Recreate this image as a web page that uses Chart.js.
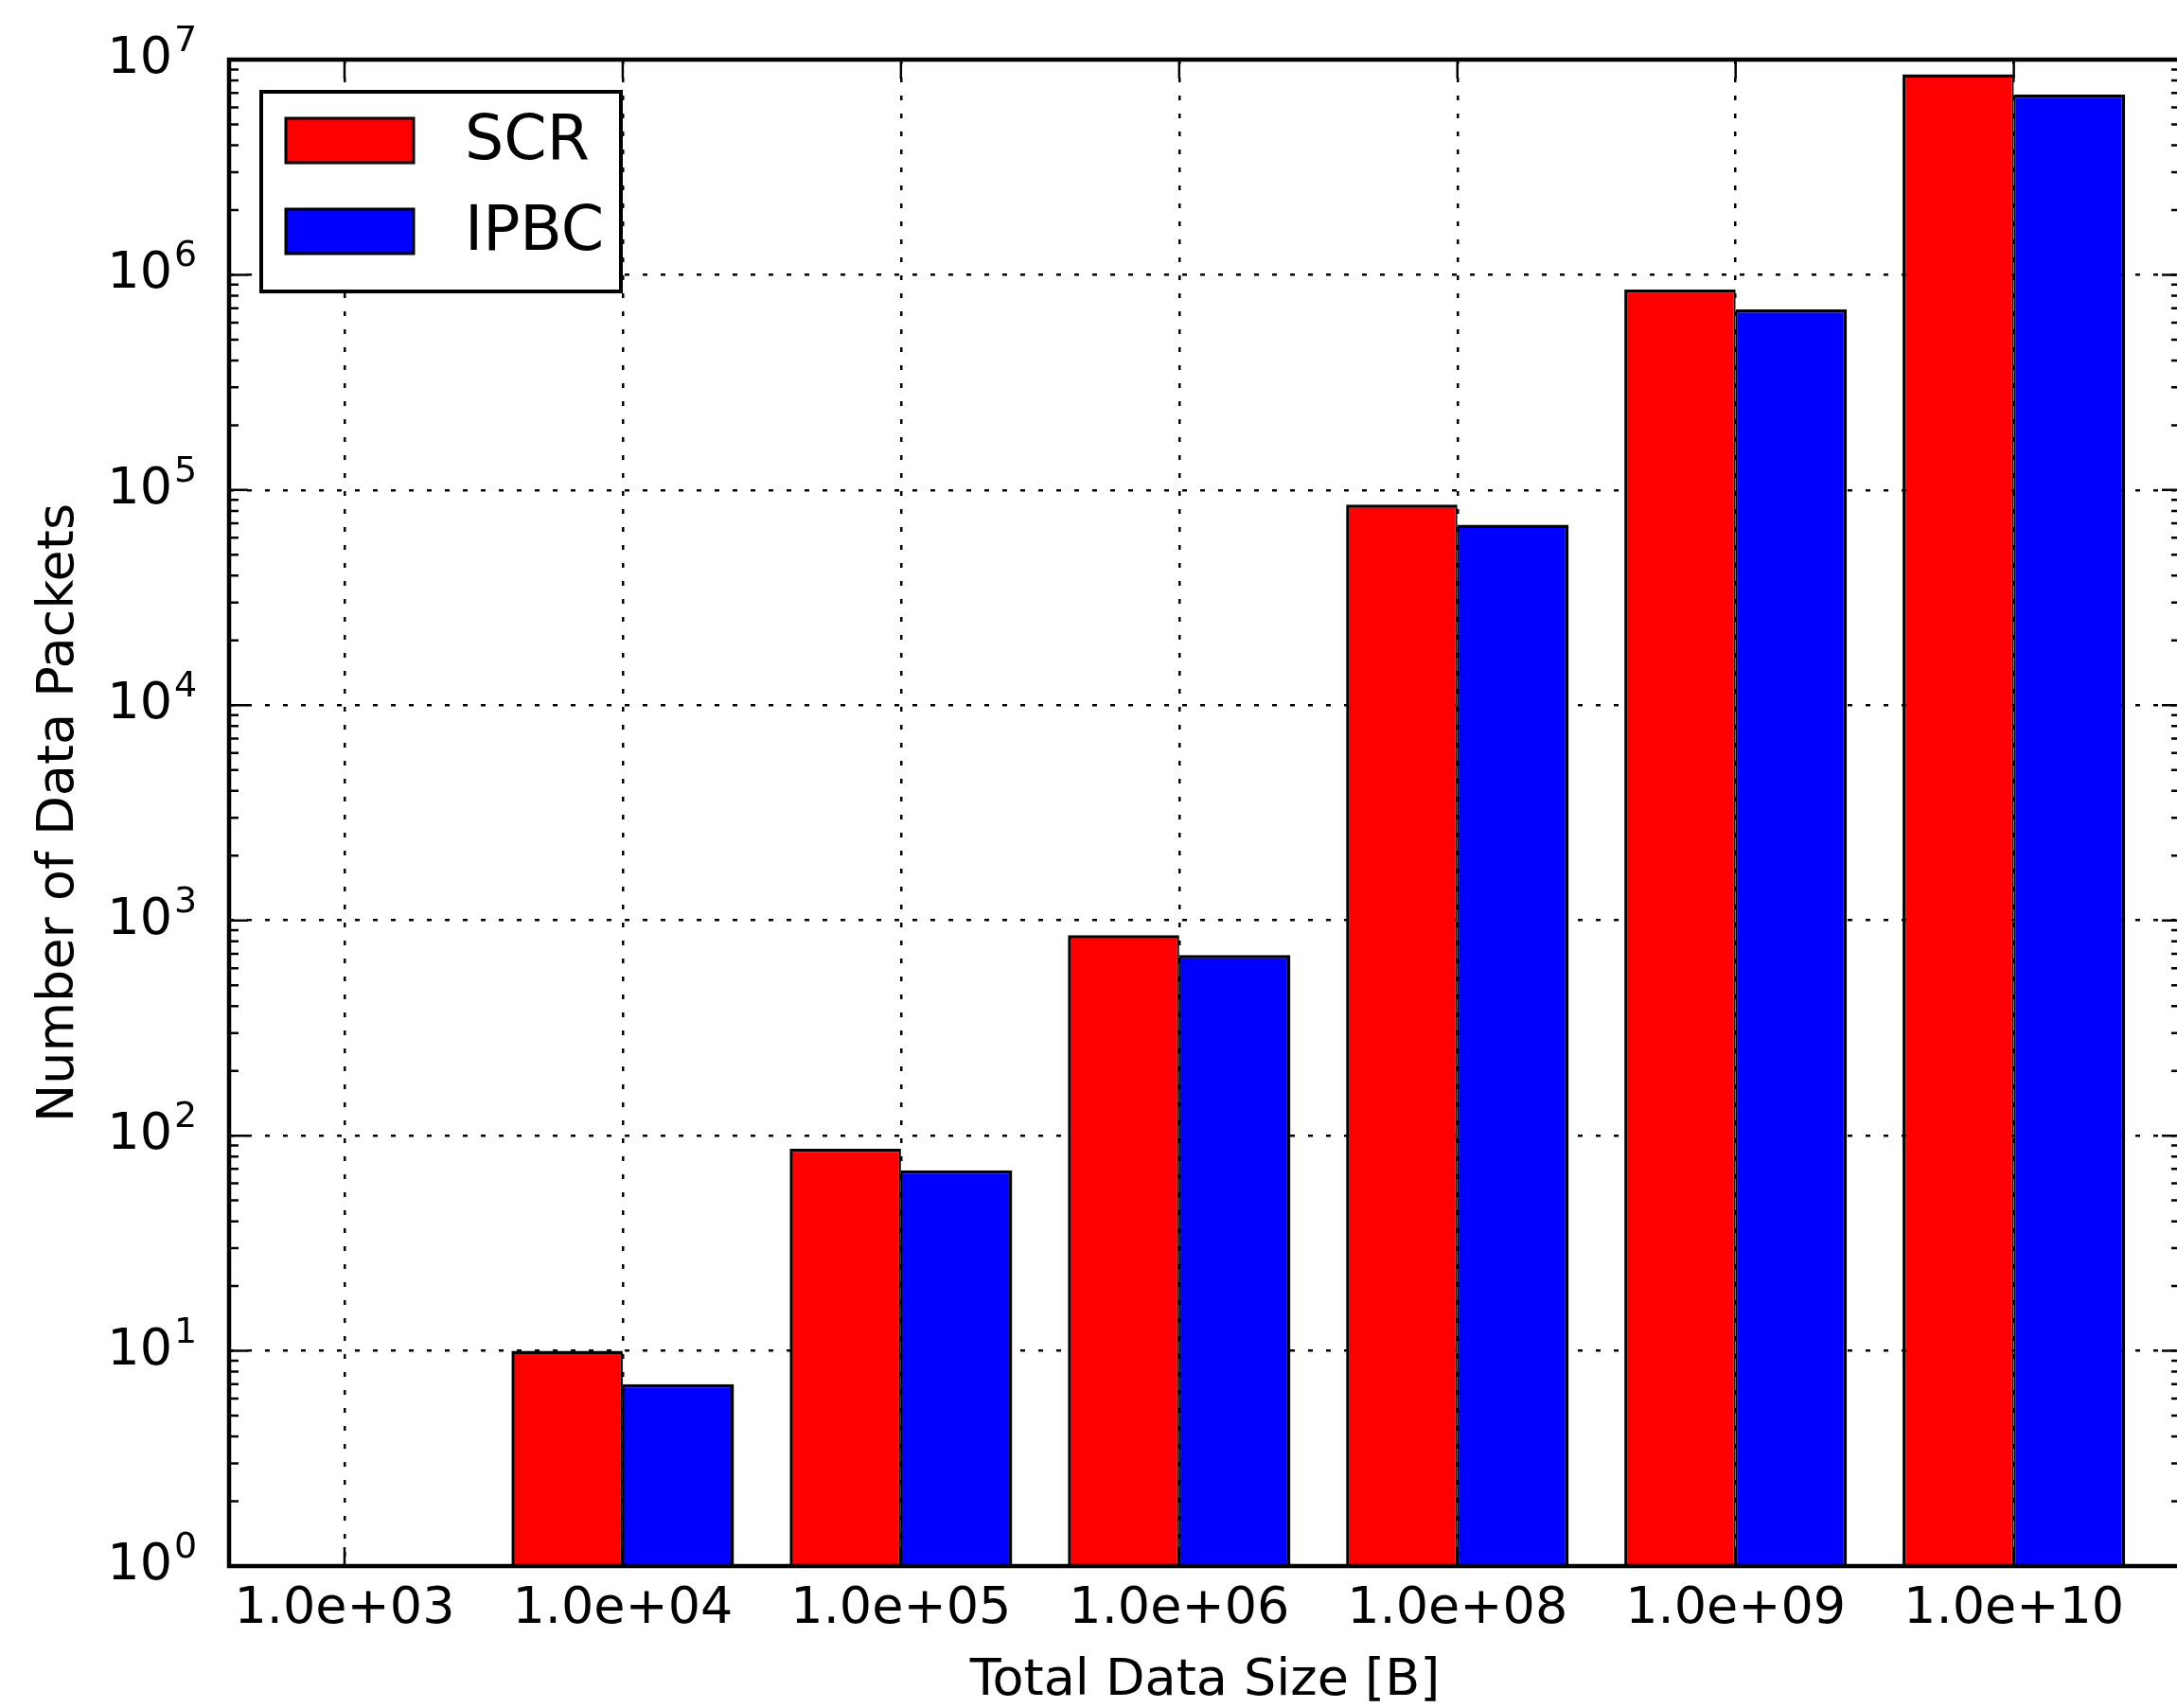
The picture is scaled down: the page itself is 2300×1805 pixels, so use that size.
<!DOCTYPE html>
<html>
<head>
<meta charset="utf-8">
<script src="https://cdn.jsdelivr.net/npm/chart.js@4"></script>
<style>
  html, body { margin: 0; padding: 0; background: #fff; overflow: hidden; }
  #chart { display: block; }
</style>
</head>
<body>
<canvas id="chart" width="2330" height="1805"></canvas>
<script>
var categories = ['1.0e+03', '1.0e+04', '1.0e+05', '1.0e+06', '1.0e+08', '1.0e+09', '1.0e+10'];
var scrValues = [1, 10, 87, 855, 85500, 855000, 8550000];
var ipbcValues = [1, 7, 69, 690, 69000, 690000, 6900000];
var yTicks = [1, 10, 100, 1000, 10000, 100000, 1000000, 10000000];

var FONT = 'DejaVu Sans';

function points(vals) {
  return vals.map(function (v, i) { return { x: i, y: v }; });
}

// inward ticks, spines, exponents and the framed legend
var decor = {
  id: 'decor',
  afterDraw: function (chart) {
    var c = chart.ctx, a = chart.chartArea;
    var xs = chart.scales.x, ys = chart.scales.y;
    c.save();
    c.strokeStyle = '#000';
    c.lineWidth = 2.5;
    c.beginPath();
    for (var e = 0; e < 7; e++) {
      for (var m = 1; m < 10; m++) {
        var py = ys.getPixelForValue(m * Math.pow(10, e));
        var len = m === 1 ? 20 : 10;
        c.moveTo(a.left, py); c.lineTo(a.left + len, py);
        c.moveTo(a.right, py); c.lineTo(a.right - len, py);
      }
    }
    categories.forEach(function (lab, i) {
      var px = xs.getPixelForValue(i);
      c.moveTo(px, a.bottom); c.lineTo(px, a.bottom - 20);
      c.moveTo(px, a.top); c.lineTo(px, a.top + 20);
    });
    c.stroke();

    c.lineWidth = 4.5;
    c.strokeRect(a.left, a.top, a.right - a.left, a.bottom - a.top);

    // exponents for 10^n labels
    c.fillStyle = '#000';
    c.font = '38px "' + FONT + '"';
    c.textAlign = 'left';
    c.textBaseline = 'alphabetic';
    yTicks.forEach(function (v) {
      var py = ys.getPixelForValue(v);
      c.fillText(String(Math.round(Math.log10(v))), 184, py - 9);
    });

    // legend
    var lx = 276, ly = 97, lw = 380, lh = 211;
    c.fillStyle = '#fff';
    c.fillRect(lx, ly, lw, lh);
    c.lineWidth = 4;
    c.strokeRect(lx, ly, lw, lh);
    c.font = '65px "' + FONT + '"';
    c.textBaseline = 'middle';
    chart.data.datasets.forEach(function (ds, i) {
      var sy = 125 + i * 96;
      c.fillStyle = ds.backgroundColor;
      c.fillRect(302, sy, 135, 47);
      c.lineWidth = 3;
      c.strokeRect(302, sy, 135, 47);
      c.fillStyle = '#000';
      c.fillText(ds.label, 491, sy + 26);
    });
    c.restore();
  }
};

new Chart(document.getElementById('chart'), {
  type: 'bar',
  data: {
    datasets: [{
      label: 'SCR',
      data: points(scrValues),
      backgroundColor: '#ff0000',
      borderColor: '#000',
      borderWidth: { top: 3.5, left: 3.5, right: 2, bottom: 0 },
      borderSkipped: false
    }, {
      label: 'IPBC',
      data: points(ipbcValues),
      backgroundColor: '#0000ff',
      borderColor: '#000',
      borderWidth: { top: 3.5, left: 2, right: 3.5, bottom: 0 },
      borderSkipped: false
    }]
  },
  options: {
    responsive: false,
    animation: false,
    devicePixelRatio: 1,
    layout: { padding: { left: 0, top: 63, right: 26, bottom: 0 } },
    plugins: { legend: { display: false }, tooltip: { enabled: false } },
    datasets: { bar: { categoryPercentage: 0.8, barPercentage: 1.0 } },
    scales: {
      x: {
        type: 'linear',
        min: -0.415,
        max: 6.6,
        offset: false,
        z: 1,
        afterBuildTicks: function (s) {
          s.ticks = categories.map(function (c, i) { return { value: i }; });
        },
        afterFit: function (s) {
          s.height = 150;
          s.paddingLeft = 0; s.paddingRight = 0;
        },
        grid: { color: '#000', lineWidth: 2.5, drawTicks: false, offset: false },
        border: { display: false, dash: [5, 14] },
        ticks: {
          autoSkip: false,
          maxRotation: 0,
          padding: 14,
          color: '#000',
          font: { family: FONT, size: 54 },
          callback: function (v) { return categories[v]; }
        },
        title: {
          display: true,
          text: 'Total Data Size [B]',
          color: '#000',
          font: { family: FONT, size: 54 },
          padding: { top: 0, bottom: -4 }
        }
      },
      y: {
        type: 'logarithmic',
        min: 1,
        max: 10000000,
        z: 1,
        afterBuildTicks: function (s) {
          s.ticks = yTicks.map(function (v) { return { value: v }; });
        },
        afterFit: function (s) {
          s.width = 242;
          s.paddingTop = 0; s.paddingBottom = 0;
        },
        grid: { color: '#000', lineWidth: 2.5, drawTicks: false },
        border: { display: false, dash: [5, 14] },
        ticks: {
          padding: 60,
          color: '#000',
          font: { family: FONT, size: 54 },
          callback: function () { return '10'; }
        },
        title: {
          display: true,
          text: 'Number of Data Packets',
          color: '#000',
          font: { family: FONT, size: 54 },
          padding: { top: 31, bottom: 0 }
        }
      }
    }
  },
  plugins: [decor]
});
</script>
</body>
</html>
